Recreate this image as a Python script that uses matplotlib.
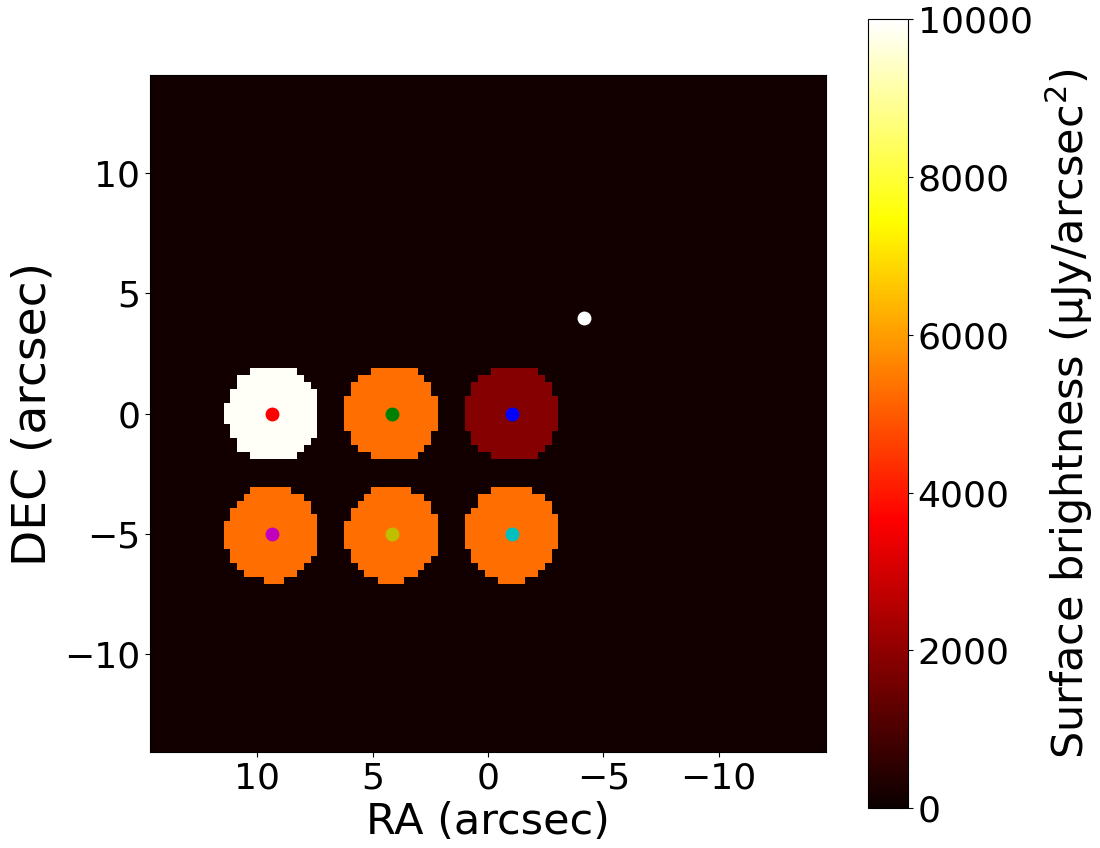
import numpy as np
import matplotlib
matplotlib.use('Agg')
import matplotlib.pyplot as plt

# source positions (arcsec) and surface brightness (uJy/arcsec^2)
disk_ra    = [9.36, 4.16, -1.04, 9.36, 4.16, -1.04]
disk_dec   = [0, 0, 0, -5, -5, -5]
disk_sb    = [9900, 5300, 1850, 5300, 5300, 5300]
disk_rad   = 2.02
dot_colors = ['r', 'g', 'b', 'm', 'y', 'c']
point_ra, point_dec = -4.16, 4
background = 150

npix = 101
pixscale = 0.29
xhalf = 14.66
yhalf = 14.1

# build the sky image on a pixel grid
coords = (np.arange(npix) - (npix - 1) / 2.) * pixscale
ra_grid, dec_grid = np.meshgrid(coords, coords)
img = np.full((npix, npix), float(background))
for ra, dec, sb in zip(disk_ra, disk_dec, disk_sb):
    inside = (ra_grid - ra)**2 + (dec_grid - dec)**2 <= disk_rad**2
    img[inside] = sb

half = npix * pixscale / 2.

plt.rcParams['font.size'] = 26
fig = plt.figure(figsize=(11, 8.48), dpi=100)
ax = fig.add_axes([0.1364, 0.1132, 0.6145, 0.7983])
cax = fig.add_axes([0.789, 0.0472, 0.0364, 0.930])

im = ax.imshow(img, origin='lower', cmap='hot', vmin=0, vmax=10000,
               extent=[-half, half, -half, half], interpolation='nearest',
               aspect='auto')
ax.set_xlim(xhalf, -xhalf)  # RA increases to the left
ax.set_ylim(-yhalf, yhalf)

for ra, dec, c in zip(disk_ra, disk_dec, dot_colors):
    ax.plot(ra, dec, 'o', color=c, ms=9)
ax.plot(point_ra, point_dec, 'o', color='w', ms=9)

ax.set_xticks([10, 5, 0, -5, -10])
ax.set_yticks([-10, -5, 0, 5, 10])
ax.set_xlabel('RA (arcsec)', fontsize=31, labelpad=4)
ax.set_ylabel('DEC (arcsec)', fontsize=34, labelpad=6)

cb = fig.colorbar(im, cax=cax)
cb.set_ticks([0, 2000, 4000, 6000, 8000, 10000])
cb.set_label('Surface brightness (μJy/arcsec$^2$)', fontsize=31, labelpad=8)

fig.savefig('out.png', dpi=100)
